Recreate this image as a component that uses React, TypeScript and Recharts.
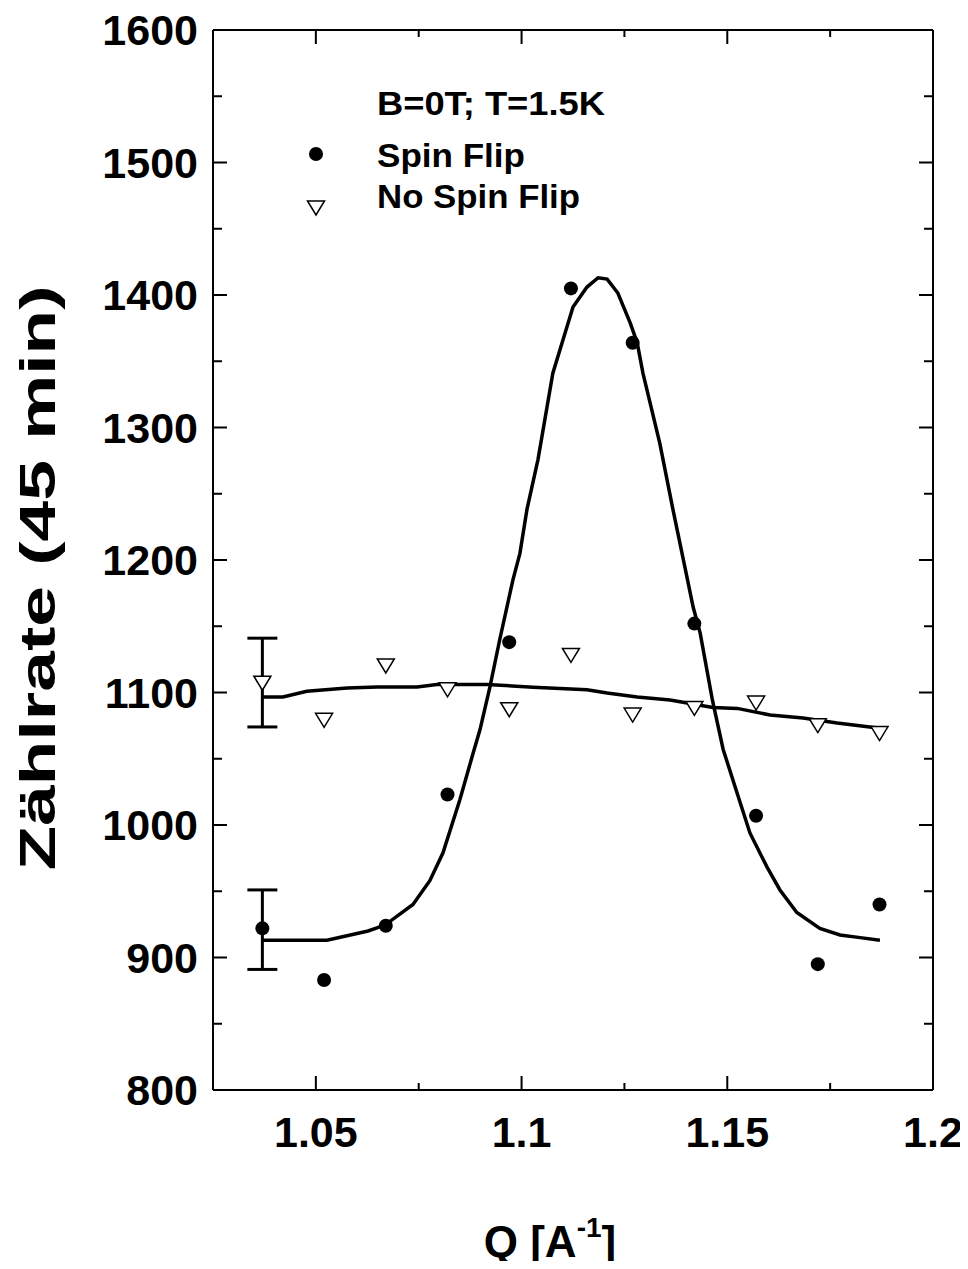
import React from 'react';
import { ComposedChart, Line, Scatter, XAxis, YAxis, ErrorBar, Legend, Label, ReferenceLine } from 'recharts';

// Measured points
const qValues = [1.037, 1.052, 1.067, 1.082, 1.097, 1.112, 1.127, 1.142, 1.157, 1.172, 1.187];
const spinFlip = [922, 883, 924, 1023, 1138, 1405, 1364, 1152, 1007, 895, 940];
const noSpinFlip = [1107, 1079, 1120, 1102, 1087, 1128, 1083, 1088, 1092, 1075, 1069];

// Fit curves
const sfFitQ = [1.0369, 1.0527, 1.0627, 1.0668, 1.0736, 1.0777, 1.0809, 1.085, 1.0882, 1.0899, 1.0923, 1.0947, 1.0979, 1.0996, 1.1013, 1.104, 1.1076, 1.1125, 1.1159, 1.1186, 1.1208, 1.1234, 1.1264, 1.1281, 1.1295, 1.1336, 1.1368, 1.1402, 1.1417, 1.1434, 1.1464, 1.149, 1.1524, 1.1555, 1.1597, 1.1628, 1.1669, 1.1725, 1.1774, 1.1823, 1.1871];
const sfFitV = [913, 913, 920, 924.5, 940, 958, 979, 1019, 1054, 1072, 1104, 1140, 1185, 1205, 1238, 1276, 1341, 1391, 1406, 1413, 1412, 1401.5, 1379, 1364, 1341, 1288, 1238, 1187, 1164.5, 1145, 1094, 1057, 1024, 994, 968, 951, 934, 922, 917, 915, 913];
const nsfFitQ = [1.0372, 1.042, 1.0478, 1.0576, 1.0649, 1.0746, 1.0794, 1.0916, 1.1028, 1.1159, 1.1208, 1.1281, 1.1361, 1.1465, 1.1524, 1.1604, 1.1684, 1.1767, 1.1871];
const nsfFitV = [1096.6, 1096.6, 1101, 1103.4, 1104.2, 1104.2, 1106, 1106, 1104, 1102, 1099.6, 1096.6, 1094.3, 1088.7, 1088, 1083, 1080.8, 1077, 1073];

// Error bars (first point only): [lower, upper]
const errQ = 1.037;
const sfErr = [31, 29];
const nsfErr = [33, 34];

// Ticks
const xMajor = [1.05, 1.1, 1.15, 1.2];
const xMinor = [1.075, 1.125, 1.175];
const yMajor = [800, 900, 1000, 1100, 1200, 1300, 1400, 1500, 1600];
const yMinor = [850, 950, 1050, 1150, 1250, 1350, 1450, 1550];

const xDomain = [1.025, 1.2];
const yDomain = [800, 1600];

const legendTitle = 'B=0T; T=1.5K';
const sfName = 'Spin Flip';
const nsfName = 'No Spin Flip';
const yTitle = 'Zählrate (45 min)';

const sfData = qValues.map((q, i) => ({ q, v: spinFlip[i] }));
const nsfData = qValues.map((q, i) => ({ q, v: noSpinFlip[i] }));
const sfFitData = sfFitQ.map((q, i) => ({ q, v: sfFitV[i] }));
const nsfFitData = nsfFitQ.map((q, i) => ({ q, v: nsfFitV[i] }));
const sfErrData = [{ q: errQ, v: spinFlip[0], e: sfErr }];
const nsfErrData = [{ q: errQ, v: noSpinFlip[0], e: nsfErr }];

const FONT = "'Liberation Sans', Arial, Helvetica, sans-serif";
const PLOT_W = 720;
const PLOT_H = 1060;
const isMajor = (v: number, arr: number[]) => arr.some((m) => Math.abs(m - v) < 1e-9);

const BottomTick = (p: any) => {
  const { x, y, payload } = p;
  const major = isMajor(payload.value, xMajor);
  const len = major ? 14 : 7;
  const top = y - PLOT_H;
  return (
    <g>
      <line x1={x} y1={y} x2={x} y2={y - len} stroke="#000" strokeWidth={2} />
      <line x1={x} y1={top} x2={x} y2={top + len} stroke="#000" strokeWidth={2} />
      {major && (
        <text x={x} y={y + 57} textAnchor="middle" fontFamily={FONT} fontWeight="bold" fontSize={43} fill="#000">
          {String(payload.value)}
        </text>
      )}
    </g>
  );
};
const LeftTick = (p: any) => {
  const { x, y, payload } = p;
  const major = isMajor(payload.value, yMajor);
  const len = major ? 14 : 9;
  const right = x + PLOT_W;
  return (
    <g>
      <line x1={x} y1={y} x2={x + len} y2={y} stroke="#000" strokeWidth={2} />
      <line x1={right} y1={y} x2={right - len} y2={y} stroke="#000" strokeWidth={2} />
      {major && (
        <text x={x - 15} y={y + 15} textAnchor="end" fontFamily={FONT} fontWeight="bold" fontSize={43} fill="#000">
          {String(payload.value)}
        </text>
      )}
    </g>
  );
};

const DotShape = (p: any) => <circle cx={p.cx} cy={p.cy} r={7} fill="#000" />;
const TriShape = (p: any) => (
  <path
    d={`M${p.cx - 8.5},${p.cy - 7}L${p.cx + 8.5},${p.cy - 7}L${p.cx},${p.cy + 7}Z`}
    fill="#fff"
    stroke="#000"
    strokeWidth={1.5}
  />
);
const NoShape = () => <g />;

const LegendBox = () => (
  <svg width={640} height={240} style={{ display: 'block' }}>
    <text x={377} y={115} fontFamily={FONT} fontWeight="bold" fontSize={33} fill="#000" textLength={228} lengthAdjust="spacingAndGlyphs">{legendTitle}</text>
    <circle cx={316} cy={154} r={7} fill="#000" />
    <text x={377} y={167} fontFamily={FONT} fontWeight="bold" fontSize={33} fill="#000" textLength={148} lengthAdjust="spacingAndGlyphs">{sfName}</text>
    <path d={`M${316 - 8.5},${201}L${316 + 8.5},${201}L${316},${215}Z`} fill="#fff" stroke="#000" strokeWidth={1.5} />
    <text x={377} y={208} fontFamily={FONT} fontWeight="bold" fontSize={33} fill="#000" textLength={203} lengthAdjust="spacingAndGlyphs">{nsfName}</text>
  </svg>
);

export default function App() {
  return (
    <div style={{ margin: '-8px -8px -8px -8px', width: 968, height: 1269 }}>
      <ComposedChart width={968} height={1269} margin={{ top: 30, right: 35, bottom: 0, left: 0 }}>
        <XAxis
          dataKey="q"
          type="number"
          domain={xDomain}
          allowDataOverflow
          ticks={[...xMajor, ...xMinor]}
          tick={BottomTick}
          tickLine={false}
          tickSize={0}
          tickMargin={0}
          axisLine={{ stroke: '#000', strokeWidth: 2 }}
          height={179}
          interval={0}
        >
          <Label
            content={(props: any) => {
              const vb = props.viewBox;
              return (
                <text x={vb.x + 337} y={vb.y + 167} textAnchor="middle" fontFamily={FONT} fontWeight="bold" fontSize={44} fill="#000">
                  <tspan>Q [A</tspan>
                  <tspan dy={-20} fontSize={28}>-1</tspan>
                  <tspan dy={20}>]</tspan>
                </text>
              );
            }}
          />
        </XAxis>
        <YAxis
          type="number"
          domain={yDomain}
          allowDataOverflow
          ticks={[...yMajor, ...yMinor]}
          tick={LeftTick}
          tickLine={false}
          tickSize={0}
          tickMargin={0}
          axisLine={{ stroke: '#000', strokeWidth: 2 }}
          width={213}
          interval={0}
        >
          <Label
            content={(props: any) => {
              const vb = props.viewBox;
              const cx = vb.x + 38;
              const cy = 578;
              return (
                <text
                  x={cx}
                  y={cy}
                  transform={`rotate(-90, ${cx}, ${cy})`}
                  textAnchor="middle"
                  dominantBaseline="central"
                  fontFamily={FONT}
                  fontWeight="bold"
                  fontSize={50}
                  fill="#000"
                  textLength={585}
                  lengthAdjust="spacingAndGlyphs"
                >
                  {yTitle}
                </text>
              );
            }}
          />
        </YAxis>
        <ReferenceLine y={1600} stroke="#000" strokeWidth={2} />
        <ReferenceLine x={1.2} stroke="#000" strokeWidth={2} />
        <Legend
          layout="vertical"
          align="center"
          verticalAlign="middle"
          wrapperStyle={{ left: 0, top: 0, width: 640, height: 240 }}
          content={() => <LegendBox />}
        />
        <Line data={sfFitData} dataKey="v" type="linear" stroke="#000" strokeWidth={3.5} dot={false} activeDot={false} isAnimationActive={false} legendType="none" />
        <Line data={nsfFitData} dataKey="v" type="linear" stroke="#000" strokeWidth={3.5} dot={false} activeDot={false} isAnimationActive={false} legendType="none" />
        <Scatter data={sfErrData} dataKey="v" shape={NoShape} isAnimationActive={false} legendType="none">
          <ErrorBar dataKey="e" direction="y" width={15} strokeWidth={3} stroke="#000" isAnimationActive={false} />
        </Scatter>
        <Scatter data={nsfErrData} dataKey="v" shape={NoShape} isAnimationActive={false} legendType="none">
          <ErrorBar dataKey="e" direction="y" width={15} strokeWidth={3} stroke="#000" isAnimationActive={false} />
        </Scatter>
        <Scatter data={sfData} dataKey="v" shape={DotShape} isAnimationActive={false} name={sfName} />
        <Scatter data={nsfData} dataKey="v" shape={TriShape} isAnimationActive={false} name={nsfName} />
      </ComposedChart>
    </div>
  );
}
